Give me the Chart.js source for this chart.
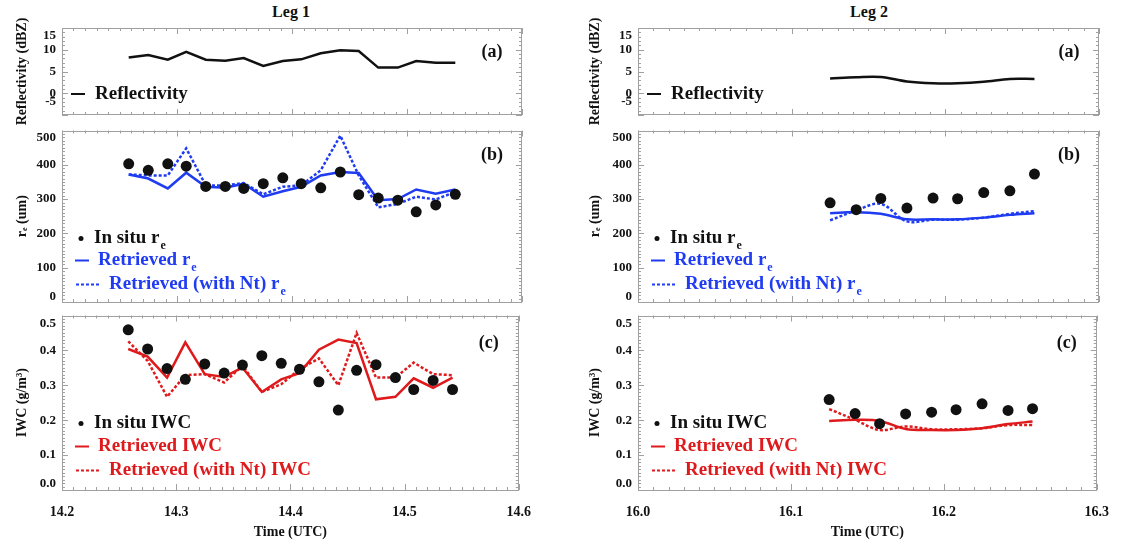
<!DOCTYPE html>
<html>
<head>
<meta charset="utf-8">
<title>Leg 1 / Leg 2 retrievals</title>
<script src="https://cdn.jsdelivr.net/npm/chart.js@4.4.1/dist/chart.umd.min.js"></script>
<style>
  html, body { margin: 0; padding: 0; background: #fff; }
  body { position: relative; width: 1123px; height: 548px; overflow: hidden; }
  canvas { position: absolute; }
  .leg-title { position: absolute; top: 3px; font: bold 16px 'Liberation Serif', 'Times New Roman', serif; color: #111; transform: translateX(-50%); white-space: nowrap; }
</style>
</head>
<body>
<div class="leg-title" style="left:291px">Leg 1</div>
<div class="leg-title" style="left:869px">Leg 2</div>
<canvas id="l1a"></canvas><canvas id="l1b"></canvas><canvas id="l1c"></canvas>
<canvas id="l2a"></canvas><canvas id="l2b"></canvas><canvas id="l2c"></canvas>
<script>
// ---- Leg 1 (one-minute samples) ----
const leg1Time = [14.258, 14.275, 14.292, 14.308, 14.325, 14.342, 14.358, 14.375, 14.392,
                  14.408, 14.425, 14.442, 14.458, 14.475, 14.492, 14.508, 14.525, 14.542];
const leg1Reflectivity = [8.2, 8.8, 7.7, 9.5, 7.7, 7.5, 8.1, 6.3, 7.4, 7.8, 9.2, 9.9, 9.7, 5.9, 5.9, 7.4, 7.0, 7.0];
const leg1ReInSitu      = [403, 384, 403, 396, 337, 337, 331, 345, 362, 345, 333, 379, 313, 303, 297, 263, 283, 314];
const leg1ReRetrieved   = [372, 360, 331, 377, 336, 333, 345, 307, 323, 336, 369, 379, 376, 297, 300, 328, 316, 328];
const leg1ReRetrievedNt = [372, 369, 369, 448, 340, 340, 347, 314, 336, 340, 384, 485, 369, 276, 286, 307, 299, 321];
const leg1IwcInSitu      = [0.459, 0.404, 0.348, 0.317, 0.361, 0.335, 0.358, 0.385, 0.363, 0.346, 0.310, 0.229, 0.343, 0.359, 0.322, 0.288, 0.314, 0.288];
const leg1IwcRetrieved   = [0.404, 0.382, 0.322, 0.423, 0.332, 0.324, 0.351, 0.281, 0.317, 0.335, 0.402, 0.431, 0.421, 0.260, 0.267, 0.320, 0.293, 0.322];
const leg1IwcRetrievedNt = [0.426, 0.370, 0.267, 0.329, 0.332, 0.308, 0.356, 0.281, 0.303, 0.346, 0.377, 0.300, 0.450, 0.322, 0.322, 0.365, 0.332, 0.329];

// ---- Leg 2 ----
const leg2Time = [16.125, 16.142, 16.158, 16.175, 16.192, 16.208, 16.225, 16.242, 16.258];
const leg2Reflectivity = [3.4, 3.7, 3.75, 2.7, 2.3, 2.3, 2.65, 3.3, 3.3];
const leg2ReInSitu      = [289, 269, 302, 274, 303, 301, 319, 324, 373];
const leg2ReRetrieved   = [259, 262, 257, 241, 241, 241, 246, 254, 259];
const leg2ReRetrievedNt = [238, 267, 286, 235, 240, 240, 246, 257, 265];
const leg2IwcInSitu      = [0.259, 0.219, 0.190, 0.218, 0.223, 0.230, 0.247, 0.228, 0.233];
const leg2IwcRetrieved   = [0.198, 0.201, 0.198, 0.175, 0.172, 0.172, 0.177, 0.189, 0.196];
const leg2IwcRetrievedNt = [0.232, 0.201, 0.172, 0.182, 0.174, 0.174, 0.177, 0.186, 0.186];

// ---- axis ticks ----
const leg1TimeTicks = [14.2, 14.3, 14.4, 14.5, 14.6];
const leg2TimeTicks = [16.0, 16.1, 16.2, 16.3];
const reflTicks = [-5, 0, 5, 10, 15];
const reTicks = [0, 100, 200, 300, 400, 500];
const iwcTicks = [0.0, 0.1, 0.2, 0.3, 0.4, 0.5];
const reflTickLabels = ['-5', '0', '5', '10', '15'];
const reTickLabels = ['0', '100', '200', '300', '400', '500'];
const iwcTickLabels = ['0.0', '0.1', '0.2', '0.3', '0.4', '0.5'];

const SERIF = "'Liberation Serif', 'Times New Roman', serif";
const BLACK = '#111111';
const BLUE = '#1f3cf2';
const RED = '#de1a1c';
const FRAME = '#a0a0a0';

Chart.defaults.font.family = SERIF;
Chart.defaults.font.weight = 'bold';
Chart.defaults.color = BLACK;

function pts(xs, ys) { return xs.map((x, i) => ({ x: x, y: ys[i] })); }

function tickMarks(ctx, a, scale, values, minorPer, horizontal) {
  const marks = [];
  for (let i = 0; i < values.length; i++) {
    marks.push([values[i], 6]);
    if (i < values.length - 1) {
      const step = (values[i + 1] - values[i]) / minorPer;
      for (let k = 1; k < minorPer; k++) marks.push([values[i] + k * step, 3]);
    }
  }
  ctx.beginPath();
  for (const [v, len] of marks) {
    const p = Math.round(scale.getPixelForValue(v)) + 0.5;
    if (horizontal) {
      ctx.moveTo(p, a.bottom); ctx.lineTo(p, a.bottom - len);
      ctx.moveTo(p, a.top); ctx.lineTo(p, a.top + len);
    } else {
      ctx.moveTo(a.left, p); ctx.lineTo(a.left + len, p);
      ctx.moveTo(a.right, p); ctx.lineTo(a.right - len, p);
    }
  }
  ctx.stroke();
}

// Frame, inward ticks, y tick labels, panel tag and in-plot legend
const panelDecor = {
  id: 'panelDecor',
  afterDraw(chart, args, o) {
    const { ctx, chartArea: a } = chart;
    const xs = chart.scales.x, ys = chart.scales.y;
    ctx.save();
    ctx.strokeStyle = FRAME;
    ctx.lineWidth = 1;
    ctx.strokeRect(Math.round(a.left) + 0.5, Math.round(a.top) + 0.5, Math.round(a.width) - 1, Math.round(a.height) - 1);
    tickMarks(ctx, a, xs, o.xTicks, o.xMinor, true);
    tickMarks(ctx, a, ys, o.yTicks, o.yMinor, false);

    // y tick labels, kept inside the frame's height
    ctx.fillStyle = BLACK;
    ctx.font = 'bold 13px ' + SERIF;
    ctx.textAlign = 'right';
    ctx.textBaseline = 'middle';
    o.yTicks.forEach((v, i) => {
      let py = ys.getPixelForValue(v);
      py = Math.min(Math.max(py, a.top + o.clampTop), a.bottom - o.clampBottom);
      ctx.fillText(o.yLabels[i], a.left - 6, py);
    });

    // panel tag
    ctx.textAlign = 'center';
    ctx.font = 'bold 18px ' + SERIF;
    ctx.fillText(o.tag, a.right - 30, a.top + o.tagDy);

    // legend
    o.legend.forEach(item => {
      const y = a.top + item.dy;
      const x0 = a.left + item.dx;
      ctx.strokeStyle = item.color;
      ctx.fillStyle = item.color;
      ctx.lineWidth = 2;
      if (item.mark === 'dot') {
        ctx.beginPath();
        ctx.arc(x0 + 6, y, 2.5, 0, Math.PI * 2);
        ctx.fill();
      } else {
        ctx.setLineDash(item.mark === 'dash' ? [3, 2] : []);
        ctx.beginPath();
        ctx.moveTo(x0, y);
        ctx.lineTo(x0 + (item.mark === 'dash' ? 23 : 14), y);
        ctx.stroke();
        ctx.setLineDash([]);
      }
      ctx.font = 'bold 19px ' + SERIF;
      ctx.textAlign = 'left';
      ctx.textBaseline = 'middle';
      const tx = a.left + item.tx;
      ctx.fillText(item.text, tx, y);
      if (item.sub) {
        const w = ctx.measureText(item.text).width;
        ctx.font = 'bold 12px ' + SERIF;
        ctx.fillText(item.sub, tx + w + 1, y + 7);
      }
    });
    ctx.restore();
  }
};

function lineSet(data, color, dashed, smooth) {
  return {
    data: data, borderColor: color, backgroundColor: color, borderWidth: 2.5,
    borderDash: dashed ? [3, 2] : [], pointRadius: 0, fill: false,
    tension: smooth ? 0.35 : 0
  };
}
function dotSet(data) {
  return {
    data: data, showLine: false, pointRadius: 5.5, pointBackgroundColor: BLACK,
    pointBorderColor: BLACK, pointBorderWidth: 0, borderColor: BLACK
  };
}

function makePanel(id, geo, p) {
  const canvas = document.getElementById(id);
  canvas.width = geo.w; canvas.height = geo.h;
  canvas.style.left = geo.left + 'px';
  canvas.style.top = geo.top + 'px';
  canvas.style.width = geo.w + 'px';
  canvas.style.height = geo.h + 'px';
  const bottom = p.bottomAxis;
  return new Chart(canvas, {
    type: 'line',
    data: { datasets: p.datasets },
    options: {
      responsive: false, maintainAspectRatio: false, devicePixelRatio: 1,
      animation: false, events: [],
      layout: { padding: { left: 0, right: geo.padR, top: geo.padT, bottom: 0 } },
      plugins: {
        legend: { display: false }, tooltip: { enabled: false },
        panelDecor: {
          xTicks: p.xTicks, xMinor: 10, yTicks: p.yTicks, yMinor: p.yMinor,
          yLabels: p.yLabels, clampTop: p.clampTop, clampBottom: p.clampBottom,
          tag: p.tag, tagDy: p.tagDy, legend: p.legend
        }
      },
      scales: {
        x: {
          type: 'linear', min: p.xTicks[0], max: p.xTicks[p.xTicks.length - 1],
          afterBuildTicks: s => { s.ticks = p.xTicks.map(v => ({ value: v })); },
          ticks: { display: bottom, padding: 14, maxRotation: 0, autoSkip: false,
                   font: { size: 14, weight: 'bold' }, color: BLACK,
                   callback: v => Number(v).toFixed(1) },
          grid: { display: false, drawTicks: false }, border: { display: false },
          title: { display: bottom, text: 'Time (UTC)', color: BLACK,
                   font: { size: 14, weight: 'bold' }, padding: { top: 0, bottom: 7 } },
          afterFit: s => { s.height = geo.xH; }
        },
        y: {
          type: 'linear', min: p.yTicks[0], max: p.yTicks[p.yTicks.length - 1],
          afterBuildTicks: s => { s.ticks = p.yTicks.map(v => ({ value: v })); },
          ticks: { display: false },
          grid: { display: false, drawTicks: false }, border: { display: false },
          title: { display: true, text: p.yTitle, color: BLACK,
                   font: { size: 14, weight: 'bold' }, padding: { top: geo.titlePad, bottom: 0 } },
          afterFit: s => { s.width = geo.yW; }
        }
      }
    },
    plugins: [panelDecor]
  });
}

// column and row geometry
const cols = {
  leg1: { left: 0, w: 545, padR: 23, yW: 62, titlePad: 14 },
  leg2: { left: 577, w: 546, padR: 24, yW: 61, titlePad: 10 }
};
const rows = {
  a: { top: 0, h: 125, padT: 28, xH: 10 },
  b: { top: 125, h: 185, padT: 3, xH: 8 },
  c: { top: 310, h: 238, padT: 5, xH: 58 }
};
function geo(c, r) { return Object.assign({}, cols[c], rows[r]); }

const reflLegend = [{ mark: 'line', color: BLACK, dx: 9, tx: 33, dy: 66, text: 'Reflectivity' }];
const reLegend = [
  { mark: 'dot', color: BLACK, dx: 13, tx: 32, dy: 108, text: 'In situ r', sub: 'e' },
  { mark: 'line', color: BLUE, dx: 13, tx: 36, dy: 130, text: 'Retrieved r', sub: 'e' },
  { mark: 'dash', color: BLUE, dx: 14, tx: 47, dy: 154, text: 'Retrieved (with Nt) r', sub: 'e' }
];
const iwcLegend = [
  { mark: 'dot', color: BLACK, dx: 13, tx: 32, dy: 108, text: 'In situ IWC' },
  { mark: 'line', color: RED, dx: 13, tx: 36, dy: 131, text: 'Retrieved IWC' },
  { mark: 'dash', color: RED, dx: 14, tx: 47, dy: 155, text: 'Retrieved (with Nt) IWC' }
];

function reflPanel(time, refl, ticks, smooth) {
  return {
    datasets: [lineSet(pts(time, refl), BLACK, false, smooth)],
    xTicks: ticks, yTicks: reflTicks, yLabels: reflTickLabels, yMinor: 5,
    clampTop: 8, clampBottom: 13, tag: '(a)', tagDy: 24, legend: reflLegend,
    yTitle: 'Reflectivity (dBZ)', bottomAxis: false
  };
}
function rePanel(time, insitu, ret, retNt, ticks, smooth) {
  return {
    datasets: [dotSet(pts(time, insitu)), lineSet(pts(time, ret), BLUE, false, smooth),
               lineSet(pts(time, retNt), BLUE, true, smooth)],
    xTicks: ticks, yTicks: reTicks, yLabels: reTickLabels, yMinor: 10,
    clampTop: 7, clampBottom: 5, tag: '(b)', tagDy: 25, legend: reLegend,
    yTitle: 'r\u2091 (um)', bottomAxis: false
  };
}
function iwcPanel(time, insitu, ret, retNt, ticks, smooth) {
  return {
    datasets: [dotSet(pts(time, insitu)), lineSet(pts(time, ret), RED, false, smooth),
               lineSet(pts(time, retNt), RED, true, smooth)],
    xTicks: ticks, yTicks: iwcTicks, yLabels: iwcTickLabels, yMinor: 10,
    clampTop: 8, clampBottom: 6, tag: '(c)', tagDy: 28, legend: iwcLegend,
    yTitle: 'IWC (g/m\u00b3)', bottomAxis: true
  };
}

makePanel('l1a', geo('leg1', 'a'), reflPanel(leg1Time, leg1Reflectivity, leg1TimeTicks, false));
makePanel('l1b', geo('leg1', 'b'), rePanel(leg1Time, leg1ReInSitu, leg1ReRetrieved, leg1ReRetrievedNt, leg1TimeTicks, false));
makePanel('l1c', geo('leg1', 'c'), iwcPanel(leg1Time, leg1IwcInSitu, leg1IwcRetrieved, leg1IwcRetrievedNt, leg1TimeTicks, false));
makePanel('l2a', geo('leg2', 'a'), reflPanel(leg2Time, leg2Reflectivity, leg2TimeTicks, true));
makePanel('l2b', geo('leg2', 'b'), rePanel(leg2Time, leg2ReInSitu, leg2ReRetrieved, leg2ReRetrievedNt, leg2TimeTicks, true));
makePanel('l2c', geo('leg2', 'c'), iwcPanel(leg2Time, leg2IwcInSitu, leg2IwcRetrieved, leg2IwcRetrievedNt, leg2TimeTicks, true));
</script>
</body>
</html>
